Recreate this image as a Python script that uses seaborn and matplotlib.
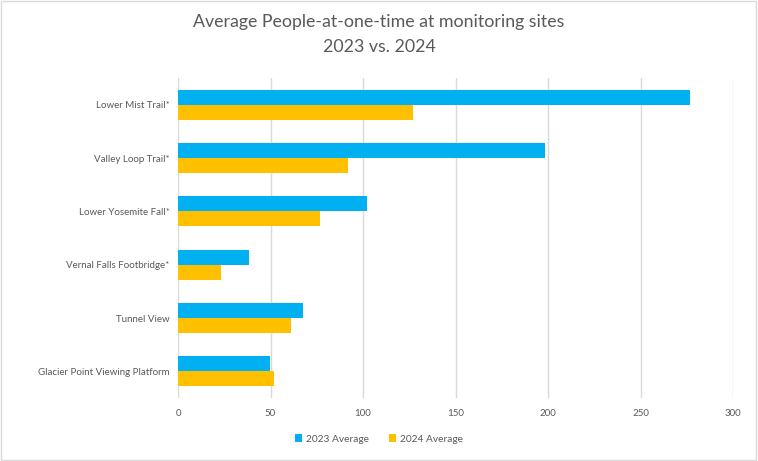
import numpy as np
import pandas as pd
import matplotlib
matplotlib.use("Agg")
import matplotlib.pyplot as plt
import seaborn as sns

# values
sites = ["Lower Mist Trail*", "Valley Loop Trail*", "Lower Yosemite Fall*",
         "Vernal Falls Footbridge*", "Tunnel View", "Glacier Point Viewing Platform"]
avg_2023 = [276.7, 198.5, 102.4, 38.3, 67.5, 49.7]
avg_2024 = [126.9, 91.9, 76.8, 23.2, 61.1, 52.0]
series = ["2023 Average", "2024 Average"]
colors = ["#00B0F0", "#FFC000"]

df = pd.DataFrame({
    "site": sites * 2,
    "value": avg_2023 + avg_2024,
    "series": [series[0]] * len(sites) + [series[1]] * len(sites),
})

sns.set_style("white")
plt.rcParams["font.family"] = ["Lato", "DejaVu Sans"]
text_col = "#595959"

fig = plt.figure(figsize=(7.58, 4.61), dpi=100)
ax = fig.add_axes([178 / 758, 1 - 398 / 461, (733 - 178) / 758, 320 / 461])

sns.barplot(data=df, y="site", x="value", hue="series", order=sites,
            hue_order=series, palette=colors, width=0.56, orient="h",
            saturation=1, linewidth=0, ax=ax, legend=True)

ax.set_xlim(0, 300)
ax.set_xticks(np.arange(0, 301, 50))
ax.set_xlabel("")
ax.set_ylabel("")
ax.grid(axis="x", color="#D9D9D9", linewidth=1)
ax.set_axisbelow(True)
for s in ax.spines.values():
    s.set_visible(False)
ax.tick_params(axis="both", length=0, labelsize=7, colors=text_col, pad=6)
ax.tick_params(axis="x", pad=8)

# legend below the plot
handles, labels = ax.get_legend_handles_labels()
ax.legend_.remove()
fig.legend(handles, labels, loc="center", bbox_to_anchor=(0.5, 1 - 439 / 461),
           ncol=2, frameon=False, fontsize=7.3, handlelength=0.7, handleheight=0.7,
           columnspacing=2.0, handletextpad=0.4, labelcolor=text_col)

fig.text(0.5, 1 - 22 / 461, "Average People-at-one-time at monitoring sites",
         ha="center", va="center", fontsize=12.8, color=text_col)
fig.text(0.5, 1 - 47 / 461, "2023 vs. 2024",
         ha="center", va="center", fontsize=12.8, color=text_col)

# light frame round the whole chart
fig.patches.append(plt.Rectangle((0.001, 0.002), 0.997, 0.995, transform=fig.transFigure,
                                 fill=False, edgecolor="#D9D9D9", linewidth=1))

fig.savefig("out.png", dpi=100)
